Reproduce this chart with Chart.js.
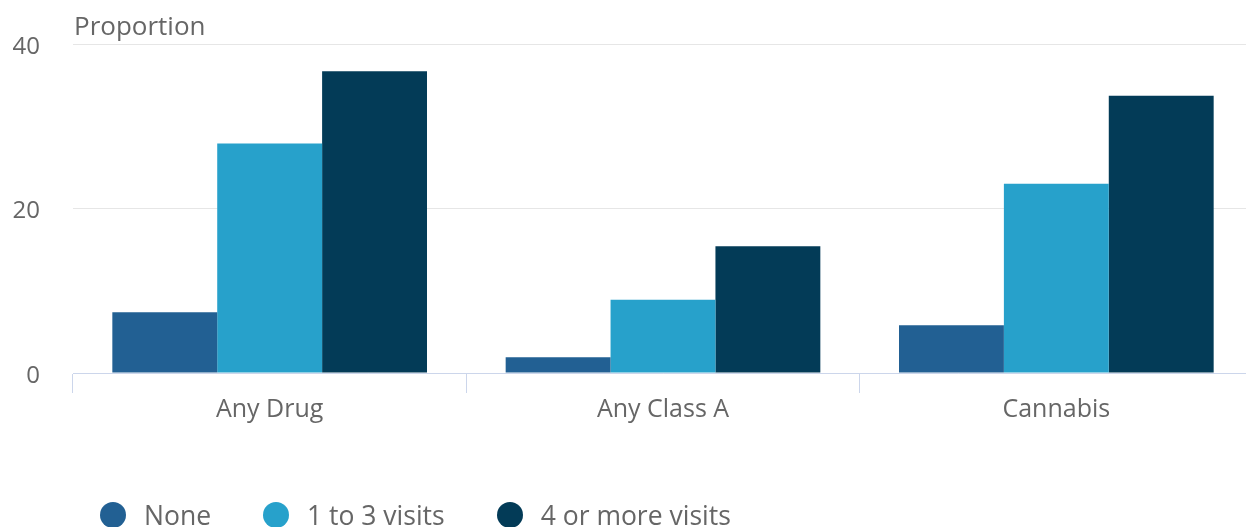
<!DOCTYPE html>
<html>
<head>
<meta charset="utf-8">
<script src="https://cdn.jsdelivr.net/npm/chart.js@4"></script>
<style>
    html, body { margin: 0; padding: 0; background: #fff; overflow: hidden; }
    #wrap { position: relative; width: 1253px; height: 527px; }
    #legend { position: absolute; left: 100px; top: 497px; display: flex; font-family: "Open Sans", sans-serif; font-size: 26.5px; color: #666; }
    #legend span.item { display: flex; align-items: center; margin-right: 52px; white-space: nowrap; }
    #legend span.dot { width: 26px; height: 26px; border-radius: 50%; margin-right: 18px; display: inline-block; }
</style>
</head>
<body>
<div id="wrap">
    <canvas id="chart" width="1253" height="527"></canvas>
    <div id="legend"></div>
</div>
<script>
var categories = ['Any Drug', 'Any Class A', 'Cannabis'];
var seriesNames = ['None', '1 to 3 visits', '4 or more visits'];
var noneValues = [7.4, 1.9, 5.8];
var oneToThreeValues = [27.9, 8.9, 23.0];
var fourPlusValues = [36.7, 15.4, 33.7];
var yTicks = [0, 20, 40];
var colors = ['#226093', '#27a1cb', '#033b57'];

var axisTitle = {
    id: 'axisTitle',
    afterDraw: function (chart) {
        var ctx = chart.ctx;
        ctx.save();
        ctx.font = '26px "Open Sans"';
        ctx.fillStyle = '#666';
        ctx.textBaseline = 'middle';
        ctx.fillText('Proportion', chart.chartArea.left + 1, 28);
        ctx.restore();
    }
};

var values = [noneValues, oneToThreeValues, fourPlusValues];
var datasets = seriesNames.map(function (name, i) {
    return {
        label: name,
        data: values[i],
        backgroundColor: colors[i],
        borderWidth: 0,
        categoryPercentage: 0.8,
        barPercentage: 1.0
    };
});

new Chart(document.getElementById('chart'), {
    type: 'bar',
    data: { labels: categories, datasets: datasets },
    options: {
        responsive: false,
        animation: false,
        layout: { padding: { top: 44, bottom: 94, left: 0, right: 0 } },
        plugins: {
            legend: { display: false },
            tooltip: { enabled: false }
        },
        scales: {
            x: {
                afterFit: function (s) { s.height = 60; },
                grid: {
                    offset: true,
                    drawOnChartArea: false,
                    drawTicks: true,
                    tickLength: 20,
                    color: '#ccd6eb'
                },
                border: { color: '#ccd6eb', width: 1 },
                ticks: {
                    padding: 2,
                    color: '#666',
                    font: { family: 'Open Sans', size: 25 }
                }
            },
            y: {
                min: 0,
                max: 40,
                afterFit: function (s) { s.width = 73; },
                afterBuildTicks: function (s) {
                    s.ticks = yTicks.map(function (v) { return { value: v }; });
                },
                grid: { color: '#e6e6e6', drawTicks: true, tickLength: 33, tickColor: 'rgba(0,0,0,0)' },
                border: { display: false },
                ticks: {
                    padding: 0,
                    labelOffset: 3,
                    color: '#666',
                    font: { family: 'Open Sans', size: 24 }
                }
            }
        }
    },
    plugins: [axisTitle]
});

var legend = document.getElementById('legend');
seriesNames.forEach(function (name, i) {
    var item = document.createElement('span');
    item.className = 'item';
    var dot = document.createElement('span');
    dot.className = 'dot';
    dot.style.background = colors[i];
    item.appendChild(dot);
    item.appendChild(document.createTextNode(name));
    legend.appendChild(item);
});
</script>
</body>
</html>
